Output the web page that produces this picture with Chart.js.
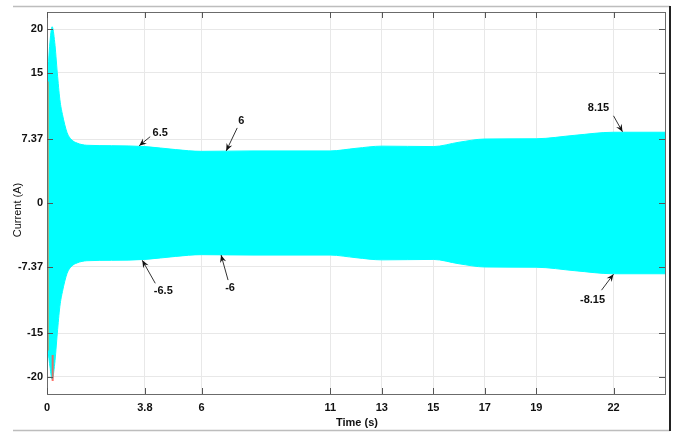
<!DOCTYPE html>
<html><head><meta charset="utf-8">
<script src="https://cdn.jsdelivr.net/npm/chart.js@4.4.1/dist/chart.umd.min.js"></script>
<style>html,body{margin:0;padding:0;background:#fff}#wrap{width:676px;height:433px;position:relative}</style>
</head><body><div id="wrap"><canvas id="c" width="676" height="433"></canvas></div>
<script>
// ---- data ----
const timeS   = [0, 0.1, 0.2, 0.3, 0.4, 0.5, 0.6, 0.78, 0.95, 1.17, 1.55, 2.5, 3.8, 5, 6, 8, 11, 12, 13, 15, 16, 17, 19, 20.5, 22, 24];
const upperA  = [13, 18, 20.3, 18.5, 15, 11.9, 10.2, 8.1, 7.3, 6.9, 6.65, 6.6, 6.5, 6.15, 5.95, 6, 6, 6.3, 6.55, 6.5, 7.0, 7.37, 7.4, 7.8, 8.15, 8.15];
const lowerA  = [-16, -18.5, -20.3, -18.5, -15, -11.9, -10.2, -8.1, -7.3, -6.9, -6.65, -6.6, -6.5, -6.15, -5.95, -6, -6, -6.3, -6.55, -6.5, -7.0, -7.37, -7.4, -7.8, -8.15, -8.15];
const spikeT  = [0.03, 0.03];
const spikeA  = [14, -17];
const peakT   = [0.22, 0.22];
const peakA   = [-17.5, -20.5];
const xTicks  = [0, 3.8, 6, 11, 13, 15, 17, 19, 22];
const yTicks  = [-20, -15, -7.37, 0, 7.37, 15, 20];
const noteText = ['6.5', '6', '-6.5', '-6', '8.15', '-8.15'];
const noteT    = [3.58, 6.96, 3.7, 6.76, 22.35, 22.0];
const noteA    = [6.6, 6.0, -6.6, -6.0, 8.2, -8.2];
// ---- layout (pixels, not data) ----
const noteOffsets = [[21,-13],[15,-30],[21,31],[9,33],[-24,-24],[-21,26]];
const arrowStart  = [[11,-9],[11,-23],[13,23],[7,25],[-9,-16],[-12,16]];

const pts = (xs, ys) => xs.map((x, i) => ({x, y: ys[i]}));
const FONT = '"Liberation Sans Narrow","Liberation Sans",Arial,sans-serif';

const deco = {
  id: 'deco',
  afterDraw(chart) {
    const {ctx, chartArea: a, scales: {x, y}} = chart;
    ctx.save();
    ctx.strokeStyle = '#6b6b6b'; ctx.lineWidth = 1;
    ctx.strokeRect(a.left + 0.5, a.top + 0.5, a.right - a.left, a.bottom - a.top);
    ctx.strokeStyle = '#555';
    xTicks.forEach(v => {
      const px = Math.round(x.getPixelForValue(v)) + 0.5;
      ctx.beginPath(); ctx.moveTo(px, a.bottom); ctx.lineTo(px, a.bottom - 6);
      ctx.moveTo(px, a.top); ctx.lineTo(px, a.top + 6); ctx.stroke();
    });
    yTicks.forEach(v => {
      const py = Math.round(y.getPixelForValue(v)) + 0.5;
      ctx.beginPath(); ctx.moveTo(a.left, py); ctx.lineTo(a.left + 6, py);
      ctx.moveTo(a.right, py); ctx.lineTo(a.right - 6, py); ctx.stroke();
    });
    ctx.strokeStyle = '#bdbdbd'; ctx.lineWidth = 1.5;
    ctx.beginPath(); ctx.moveTo(13, 6.5); ctx.lineTo(670, 6.5); ctx.stroke();
    ctx.beginPath(); ctx.moveTo(13, 430.5); ctx.lineTo(670, 430.5); ctx.stroke();
    ctx.strokeStyle = '#222'; ctx.lineWidth = 2;
    ctx.beginPath(); ctx.moveTo(670, 6); ctx.lineTo(670, 431); ctx.stroke();
    ctx.fillStyle = '#111';
    ctx.font = 'bold 11px ' + FONT;
    ctx.textAlign = 'center'; ctx.textBaseline = 'middle';
    ctx.fillText('Time (s)', 357, 423);
    ctx.save(); ctx.translate(18, 210); ctx.rotate(-Math.PI / 2);
    ctx.font = '11px ' + FONT; ctx.fillText('Current (A)', 0, 0); ctx.restore();
    ctx.font = 'bold 11px ' + FONT;
    noteText.forEach((t, i) => {
      const tx = x.getPixelForValue(noteT[i]), ty = y.getPixelForValue(noteA[i]);
      const sx = tx + arrowStart[i][0], sy = ty + arrowStart[i][1];
      ctx.strokeStyle = '#333'; ctx.lineWidth = 1;
      ctx.beginPath(); ctx.moveTo(sx, sy); ctx.lineTo(tx, ty); ctx.stroke();
      const ang = Math.atan2(ty - sy, tx - sx), L = 8, W = 0.4;
      ctx.fillStyle = '#111';
      ctx.beginPath(); ctx.moveTo(tx, ty);
      ctx.lineTo(tx - L * Math.cos(ang - W), ty - L * Math.sin(ang - W));
      ctx.lineTo(tx - L * 0.6 * Math.cos(ang), ty - L * 0.6 * Math.sin(ang));
      ctx.lineTo(tx - L * Math.cos(ang + W), ty - L * Math.sin(ang + W));
      ctx.closePath(); ctx.fill();
      ctx.fillText(t, tx + noteOffsets[i][0], ty + noteOffsets[i][1]);
    });
    ctx.restore();
  }
};

new Chart(document.getElementById('c'), {
  type: 'line',
  data: {
    datasets: [
      {data: pts(timeS, upperA), borderColor: '#00ffff', backgroundColor: '#00ffff', borderWidth: 1, pointRadius: 0, fill: '+1', cubicInterpolationMode: 'monotone', order: 2},
      {data: pts(timeS, lowerA), borderColor: '#00ffff', backgroundColor: '#00ffff', borderWidth: 1, pointRadius: 0, fill: false, cubicInterpolationMode: 'monotone', order: 2},
      {data: pts(spikeT, spikeA), borderColor: 'rgba(240,138,60,0.8)', borderWidth: 2, pointRadius: 0, fill: false, order: 0},
      {data: pts(peakT, peakA), borderColor: 'rgba(255,90,80,0.85)', borderWidth: 2, pointRadius: 0, fill: false, order: 0}
    ]
  },
  options: {
    responsive: false, animation: false,
    layout: {padding: {top: 12, right: 11, left: 0, bottom: 0}},
    plugins: {legend: {display: false}, tooltip: {enabled: false}},
    scales: {
      x: {
        type: 'linear', min: 0, max: 24,
        afterBuildTicks: s => { s.ticks = xTicks.map(v => ({value: v})); },
        afterFit: s => { s.height = 39; },
        grid: {color: '#e8e8e8', drawTicks: false},
        border: {display: false},
        ticks: {padding: 7, color: '#111', font: {family: FONT, size: 11, weight: 'bold'}, maxRotation: 0, autoSkip: false, callback: v => String(v)}
      },
      y: {
        type: 'linear', min: -22, max: 22,
        afterBuildTicks: s => { s.ticks = yTicks.map(v => ({value: v})); },
        afterFit: s => { s.width = 47; },
        grid: {color: '#e8e8e8', drawTicks: false},
        border: {display: false},
        ticks: {padding: 4, color: '#111', font: {family: FONT, size: 11, weight: 'bold'}, autoSkip: false, callback: v => String(v)}
      }
    }
  },
  plugins: [deco]
});
</script></body></html>
